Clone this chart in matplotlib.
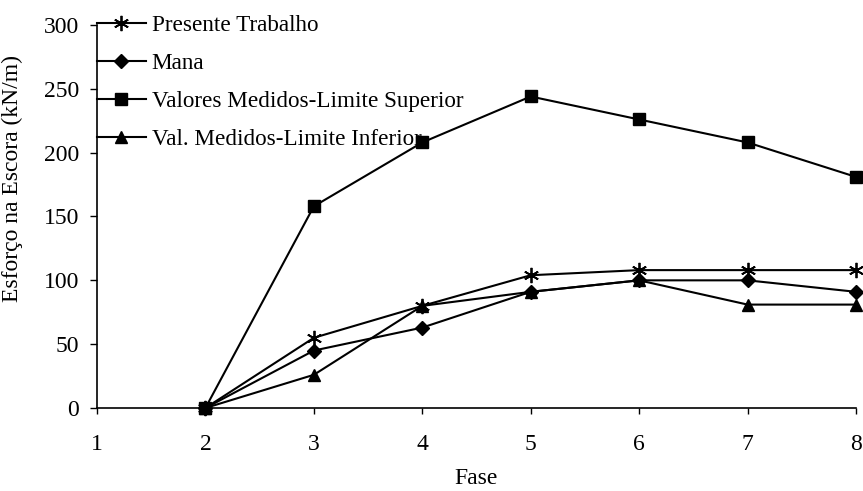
import matplotlib
matplotlib.use("Agg")
import matplotlib.pyplot as plt

# leitura aproximada do grafico
fases = [2, 3, 4, 5, 6, 7, 8]
presente_trabalho = [0, 55, 80, 104, 108, 108, 108]
mana = [0, 45, 63, 91, 100, 100, 91]
lim_superior = [0, 158, 208, 244, 226, 208, 181]
lim_inferior = [0, 26, 80, 91, 100, 81, 81]

labels = ["Presente Trabalho", "Mana",
          "Valores Medidos-Limite Superior", "Val. Medidos-Limite Inferior"]

plt.rcParams['font.family'] = ['Liberation Serif', 'DejaVu Serif']
plt.rcParams['font.size'] = 17

fig = plt.figure(figsize=(8.63, 4.91), dpi=100)
ax = fig.add_axes([97/863, 83/491, (856-97)/863, (408-25)/491])

lw = 1.5
common = dict(color='black', lw=lw, clip_on=False)
ax.plot(fases, presente_trabalho, marker=(6, 2, 0), markersize=11,
        markeredgewidth=1.3, label=labels[0], **common)
ax.plot(fases, mana, marker='D', markersize=7, label=labels[1], **common)
ax.plot(fases, lim_superior, marker='s', markersize=8, label=labels[2], **common)
ax.plot(fases, lim_inferior, marker='^', markersize=9, label=labels[3], **common)

ax.set_xlim(1, 8)
ax.set_ylim(0, 300)
ax.set_xticks(range(1, 9))
ax.set_yticks(range(0, 301, 50))
for s in ['top', 'right']:
    ax.spines[s].set_visible(False)
ax.spines['left'].set_linewidth(1.2)
ax.spines['bottom'].set_linewidth(1.2)
ax.tick_params(axis='x', direction='out', length=4, width=1, pad=15)
ax.tick_params(axis='y', direction='out', length=5, width=1, pad=8)

ax.set_xlabel("Fase", labelpad=9)
ax.set_ylabel("Esforço na Escora (kN/m)")
ax.yaxis.set_label_coords(-0.0975, 0.6)

leg = ax.legend(loc='upper left', bbox_to_anchor=(0, 1.027), frameon=False,
                borderpad=0, borderaxespad=0, handlelength=2.1,
                handletextpad=0.25, labelspacing=0.73, fontsize=16.7)

fig.savefig("out.png", dpi=100)
